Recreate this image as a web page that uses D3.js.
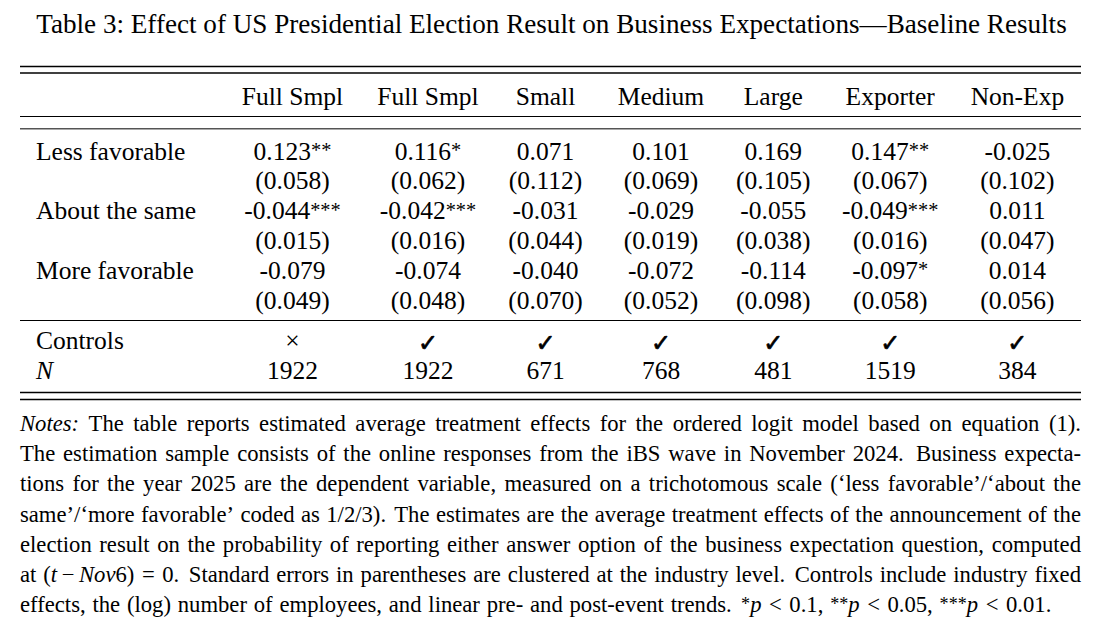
<!DOCTYPE html>
<html>
<head>
<meta charset="utf-8">
<script src="https://cdn.jsdelivr.net/npm/d3@7"></script>
<style>
  body { margin: 0; background: #fff; }
  svg text { font-family: "Liberation Serif", "Times New Roman", serif; fill: #000; }
  svg text.ctl-yes { font-family: "DejaVu Sans", sans-serif; stroke: #000; stroke-width: 0.7px; }
</style>
</head>
<body>
<div id="table"></div>
<script>
// column headers
const columns = ["Full Smpl", "Full Smpl", "Small", "Medium", "Large", "Exporter", "Non-Exp"];
// outcome rows
const outcomes = ["Less favorable", "About the same", "More favorable"];

// estimates, standard errors and significance stars per outcome
const coefLess = [0.123, 0.116, 0.071, 0.101, 0.169, 0.147, -0.025];
const seLess = [0.058, 0.062, 0.112, 0.069, 0.105, 0.067, 0.102];
const starsLess = [2, 1, 0, 0, 0, 2, 0];

const coefSame = [-0.044, -0.042, -0.031, -0.029, -0.055, -0.049, 0.011];
const seSame = [0.015, 0.016, 0.044, 0.019, 0.038, 0.016, 0.047];
const starsSame = [3, 3, 0, 0, 0, 3, 0];

const coefMore = [-0.079, -0.074, -0.040, -0.072, -0.114, -0.097, 0.014];
const seMore = [0.049, 0.048, 0.070, 0.052, 0.098, 0.058, 0.056];
const starsMore = [0, 0, 0, 0, 0, 1, 0];

const controls = [false, true, true, true, true, true, true];
const nObs = [1922, 1922, 671, 768, 481, 1519, 384];

const title = "Table 3: Effect of US Presidential Election Result on Business Expectations\u2014Baseline Results";

// notes, one entry per printed line: _italic_ and ^superscript^
const noteLines = [
  "_Notes:_ The table reports estimated average treatment effects for the ordered logit model based on equation (1).",
  "The estimation sample consists of the online responses from the iBS wave in November 2024. Business expecta-",
  "tions for the year 2025 are the dependent variable, measured on a trichotomous scale (\u2018less favorable\u2019/\u2018about the",
  "same\u2019/\u2018more favorable\u2019 coded as 1/2/3). The estimates are the average treatment effects of the announcement of the",
  "election result on the probability of reporting either answer option of the business expectation question, computed",
  "at (_t_\u2009\u2212\u2009_Nov_6)\u2004=\u20040. Standard errors in parentheses are clustered at the industry level. Controls include industry fixed",
  "effects, the (log) number of employees, and linear pre- and post-event trends. ^*^_p_\u2004<\u20040.1, ^**^_p_\u2004<\u20040.05, ^***^_p_\u2004<\u20040.01."
];

const width = 1100, height = 624;
const left = 20, right = 1081;
const fontSize = 25.5;

const fmt = d3.formatLocale({decimal: ".", thousands: ",", grouping: [3], currency: ["", ""], minus: "-"}).format(".3f");

const svg = d3.select("#table")
  .append("svg")
  .attr("width", width)
  .attr("height", height);

// column centres and row baselines
const x = d3.scaleOrdinal()
  .domain(d3.range(columns.length))
  .range([292.5, 428, 545.5, 661, 773.3, 890.2, 1017.4]);

const coefs = [coefLess, coefSame, coefMore];
const ses = [seLess, seSame, seMore];
const stars = [starsLess, starsSame, starsMore];

const body = [];
outcomes.forEach((o, i) => {
  body.push({label: o, cells: coefs[i].map((v, j) => [{t: fmt(v)}, {t: "*".repeat(stars[i][j]), sup: true}])});
  body.push({label: "", cells: ses[i].map(v => [{t: "(" + fmt(v) + ")"}])});
});

const yBody = d3.scaleLinear().domain([0, body.length - 1]).range([159.5, 308.8]);
const yFoot = d3.scaleLinear().domain([0, 1]).range([349, 378.5]);
const yNotes = d3.scaleLinear().domain([0, noteLines.length - 1]).range([431, 612]);

// text with italic / raised pieces
function drawPieces(g, pieces, size) {
  const t = g.append("text").attr("font-size", size);
  let shift = 0;
  pieces.forEach(p => {
    if (!p.t) return;
    const target = p.sup ? -0.1 * size : 0;
    const ts = t.append("tspan").text(p.t).attr("dy", target - shift);
    shift = target;
    if (p.it) ts.attr("font-style", "italic");
    if (p.sup) ts.attr("font-size", size * 0.8);
  });
  return t;
}

function parseWord(w) {
  return w.split(/(_[^_]+_|\^[^^]+\^)/).filter(s => s.length).map(s => {
    if (s[0] === "_") return {t: s.slice(1, -1), it: true};
    if (s[0] === "^") return {t: s.slice(1, -1), sup: true};
    return {t: s};
  });
}

// title, sized to span the table
const titleText = svg.append("text")
  .attr("x", (left + right) / 2 + 1)
  .attr("y", 33)
  .attr("text-anchor", "middle")
  .attr("font-size", 24)
  .text(title);
titleText.attr("font-size", 24 * 1031 / titleText.node().getComputedTextLength());

// rules
const rules = [
  {y: 66.5, w: 1.5, c: "#000"},
  {y: 73, w: 1.5, c: "#000"},
  {y: 116.5, w: 1, c: "#000"},
  {y: 128.8, w: 1.4, c: "#555"},
  {y: 320.5, w: 1, c: "#000"},
  {y: 392.5, w: 1.5, c: "#000"},
  {y: 399.5, w: 1.5, c: "#000"}
];
svg.append("g")
  .selectAll("line")
  .data(rules)
  .join("line")
    .attr("x1", left)
    .attr("x2", right)
    .attr("y1", d => d.y)
    .attr("y2", d => d.y)
    .attr("stroke", d => d.c)
    .attr("stroke-width", d => d.w);

// header
svg.append("g")
  .selectAll("text")
  .data(columns)
  .join("text")
    .attr("x", (d, i) => x(i))
    .attr("y", 105)
    .attr("text-anchor", "middle")
    .attr("font-size", fontSize)
    .text(d => d);

// body rows
const rowsG = svg.append("g");
body.forEach((row, r) => {
  rowsG.append("text")
    .attr("x", 36)
    .attr("y", yBody(r))
    .attr("font-size", fontSize)
    .text(row.label);
  row.cells.forEach((cell, j) => {
    drawPieces(rowsG, cell, fontSize)
      .attr("x", x(j))
      .attr("y", yBody(r))
      .attr("text-anchor", "middle");
  });
});

// controls and N
const footG = svg.append("g");
footG.append("text").attr("x", 36).attr("y", yFoot(0)).attr("font-size", fontSize).text("Controls");
footG.append("text").attr("x", 36).attr("y", yFoot(1)).attr("font-size", fontSize)
  .attr("font-style", "italic").text("N");

footG.selectAll("text.ctl")
  .data(controls)
  .join("text")
    .attr("class", d => d ? "ctl ctl-yes" : "ctl")
    .attr("x", (d, i) => x(i))
    .attr("y", d => d ? yFoot(0) + 2 : yFoot(0))
    .attr("text-anchor", "middle")
    .style("font-size", d => d ? "24px" : fontSize + "px")
    .text(d => d ? "\u2713" : "\u00d7");

footG.selectAll("text.n")
  .data(nObs)
  .join("text")
    .attr("class", "n")
    .attr("x", (d, i) => x(i))
    .attr("y", yFoot(1))
    .attr("text-anchor", "middle")
    .attr("font-size", fontSize)
    .text(d => d3.format("d")(d));

// notes, justified line by line
const notesG = svg.append("g");
function layoutNotes(size) {
  notesG.selectAll("*").remove();
  const space = size * 0.3, extra = size * 0.11;
  let lastNatural = 0;
  noteLines.forEach((line, li) => {
    const raw = line.split(" ");
    const g = notesG.append("g").attr("transform", `translate(0,${yNotes(li)})`);
    const texts = raw.map(w => drawPieces(g, parseWord(w), size));
    const widths = texts.map(t => t.node().getComputedTextLength());
    const ends = raw.slice(0, -1).map(w => /\.$/.test(w));
    const natural = ends.map(e => space + (e ? extra : 0));
    const stretch = ends.map(e => e ? 3 : 1);
    const used = d3.sum(widths) + d3.sum(natural);
    const isLast = li === noteLines.length - 1;
    if (isLast) lastNatural = used;
    const k = isLast ? 0 : (right - left - d3.sum(widths) - d3.sum(natural)) / d3.sum(stretch);
    let pos = left;
    texts.forEach((t, i) => {
      t.attr("x", pos);
      pos += widths[i] + (i < natural.length ? natural[i] + k * stretch[i] : 0);
    });
  });
  return lastNatural;
}
const nat = layoutNotes(20);
layoutNotes(20 * 1032 / nat);
</script>
</body>
</html>
